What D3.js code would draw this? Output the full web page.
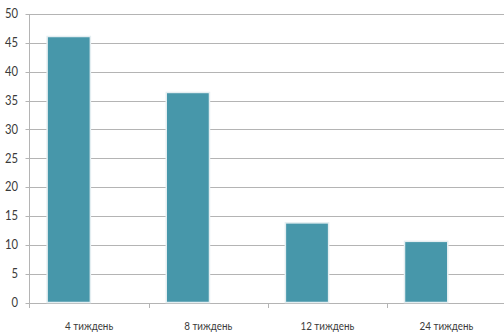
<!DOCTYPE html>
<html><head><meta charset="utf-8">
<script src="https://cdn.jsdelivr.net/npm/d3@7"></script>
<style>
body{margin:0;background:#fff;}
svg{display:block;}
text{font-family:Lato,"DejaVu Sans Condensed",sans-serif;fill:#3a3a3a;}
</style></head>
<body><svg id="c" width="504" height="334"></svg>
<script>
const categories = ["4 тиждень","8 тиждень","12 тиждень","24 тиждень"];
const values = [46.1, 36.4, 13.8, 10.6];
const yTicks = [0,5,10,15,20,25,30,35,40,45,50];

(function(){
const svg = d3.select("#c");
const mLeft = 29.5, mRight = 506, mTop = 14, mBottom = 302.5;
const x = d3.scaleBand().domain(categories).range([mLeft, mRight]).padding(0);
const y = d3.scaleLinear().domain([0,50]).range([mBottom, mTop]);

svg.append("g").selectAll("line").data(yTicks).join("line")
  .attr("x1", mLeft).attr("x2", 504)
  .attr("y1", d => Math.round(y(d)) + 0.5).attr("y2", d => Math.round(y(d)) + 0.5)
  .attr("stroke", "#b4b4b4").attr("stroke-width", 1);

svg.append("g").selectAll("line").data(yTicks).join("line")
  .attr("x1", mLeft - 4).attr("x2", mLeft)
  .attr("y1", d => Math.round(y(d)) + 0.5).attr("y2", d => Math.round(y(d)) + 0.5)
  .attr("stroke", "#b4b4b4");

svg.append("line").attr("x1", mLeft).attr("x2", mLeft)
  .attr("y1", mTop).attr("y2", Math.round(mBottom) + 5)
  .attr("stroke", "#b4b4b4");

svg.append("g").selectAll("line").data(categories.slice(1)).join("line")
  .attr("x1", d => Math.round(x(d)) + 0.5).attr("x2", d => Math.round(x(d)) + 0.5)
  .attr("y1", Math.round(mBottom)).attr("y2", Math.round(mBottom) + 5)
  .attr("stroke", "#b4b4b4");

svg.append("g").selectAll("text").data(yTicks).join("text")
  .attr("transform", d => `translate(18,${y(d)}) scale(0.9,1)`)
  .attr("dy", "0.35em")
  .attr("text-anchor", "end").attr("font-size", 12.5).text(d => d);

const bw = x.bandwidth();
svg.append("g").selectAll("rect").data(values).join("rect")
  .attr("x", (d,i) => x(categories[i]) + bw * 0.148)
  .attr("width", bw * 0.363)
  .attr("y", d => y(d))
  .attr("height", d => y(0) - y(d))
  .attr("fill", "#4797aa")
  .attr("stroke", "#e4eef1").attr("stroke-width", 1.5);

svg.append("g").selectAll("text").data(categories).join("text")
  .attr("transform", d => `translate(${x(d) + bw / 2},330) scale(0.82,1)`)
  .attr("text-anchor", "middle").attr("font-size", 12).text(d => d);
})();
</script></body></html>
